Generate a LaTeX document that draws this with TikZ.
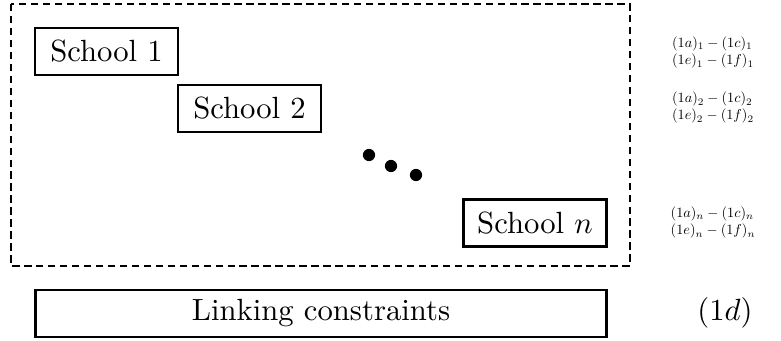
\documentclass[tikz,border=0pt]{standalone}
\usepackage{amsmath}
\usepackage{amssymb}
\usepackage{tikz}

\tikzset{
	schoolbox/.style={draw,line width=0.85pt,minimum width=46.6pt,minimum height=15.3pt,inner sep=0pt},
	constr/.style={align=left,inner sep=0pt}
}
\newcommand{\constrpair}[1]{\scalebox{0.465}{\begin{tabular}{@{}l@{}}$(1a)_{#1}-(1c)_{#1}$\\$(1e)_{#1}-(1f)_{#1}$\end{tabular}}}

\begin{document}
\begin{tikzpicture}[x=0.326pt,y=-0.326pt]
	
	\useasboundingbox (0,0) rectangle (781,341);
	
	% Draw the dashed frame round the schools
	\draw[line width=0.85pt,dash pattern=on 2.4pt off 1.5pt] (11,4) rectangle (630,266);
	
	% Draw nodes
	\node[schoolbox] (S1) at (106.5,51.5) {School 1};
	\node[schoolbox] (S2) at (249.5,108.5) {School 2};
	\node[schoolbox] (Sn) at (535,223) {School $n$};
	\node[draw,line width=0.85pt,minimum width=186pt,minimum height=15.3pt,inner sep=0pt] (LC) at (321,313.5) {Linking constraints};
	
	% Draw the dots between school 2 and school n
	\foreach \x/\y in {369/155,391/166,416/175}
		\fill (\x,\y) circle (2pt);
	
	% Draw the constraint labels on the right
	\node[constr] (C1) at (713,53) {\constrpair{1}};
	\node[constr] (C2) at (713,108) {\constrpair{2}};
	\node[constr] (Cn) at (713,223) {\constrpair{n}};
	\node (D) at (725,313) {$(1d)$};
	
\end{tikzpicture}
\end{document}
